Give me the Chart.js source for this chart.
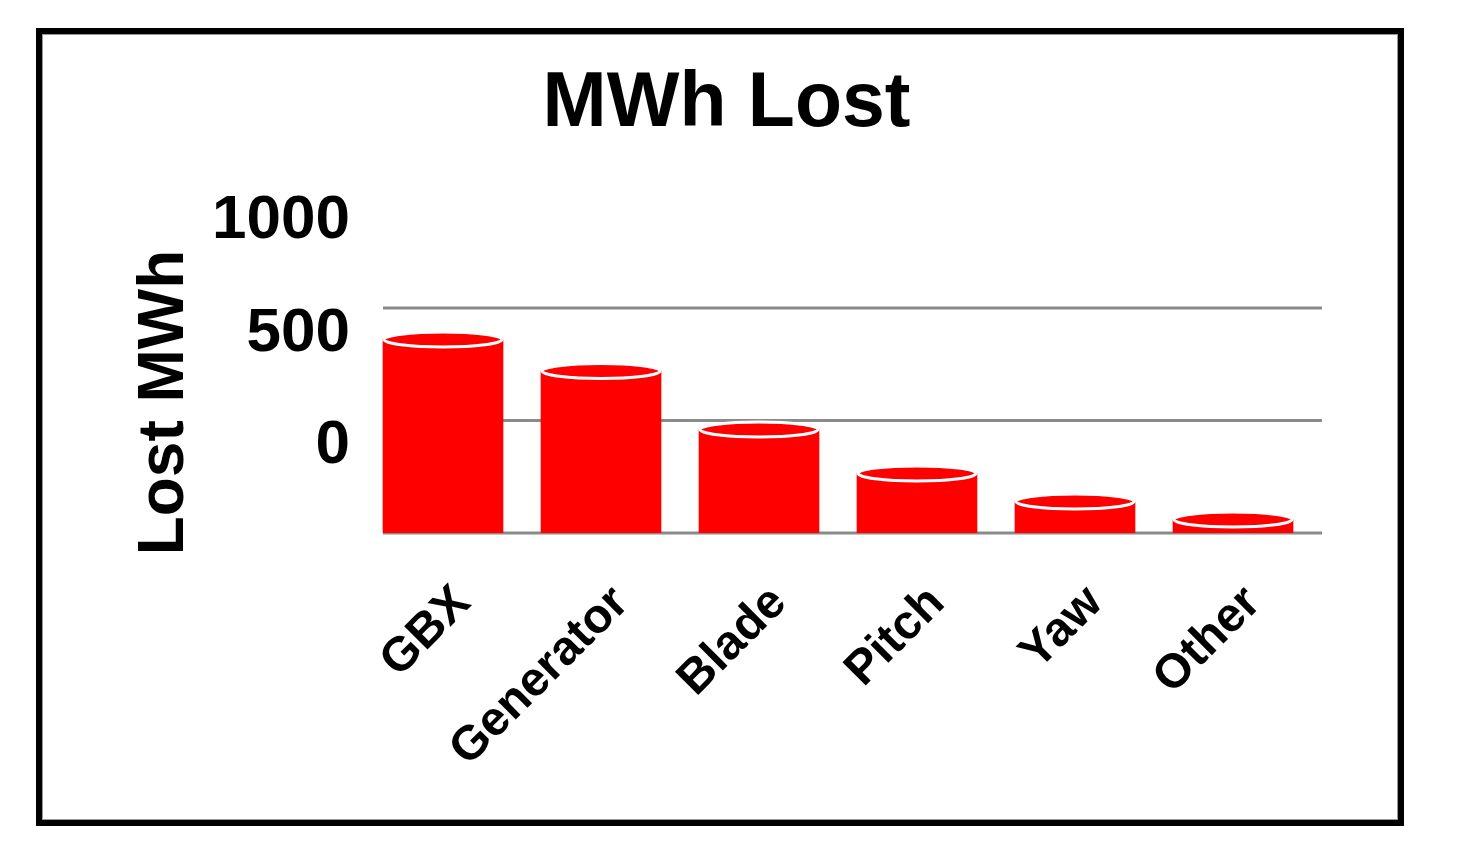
<!DOCTYPE html>
<html>
<head>
<meta charset="utf-8">
<script src="https://cdn.jsdelivr.net/npm/chart.js@4.4.0/dist/chart.umd.min.js"></script>
<style>
  body{margin:0;background:#fff;}
  canvas{position:absolute;left:0;top:0;}
  #frame{position:absolute;left:36px;top:28px;width:1368px;height:798px;border:6px solid #000;box-sizing:border-box;box-shadow:inset 0 0 0 1px #999;pointer-events:none;}
</style>
</head>
<body>
<canvas id="myChart" width="1464" height="854"></canvas>
<div id="frame"></div>
<script>
const categories=['GBX','Generator','Blade','Pitch','Yaw','Other'];
const lostMWh=[860,720,460,265,140,60];
const yTicks=[0,500,1000];
const yTitle='Lost MWh';

const FONT='"Liberation Sans", Arial, Helvetica, sans-serif';

// gray lines behind the bars, a bit shifted right like the original
const gridPlugin={
  id:'gridLines',
  beforeDatasetsDraw(chart){
    const {ctx,chartArea,scales}=chart;
    ctx.save();
    ctx.strokeStyle='#8a8a8a';
    ctx.lineWidth=3;
    scales.y.ticks.forEach(t=>{
      const y=scales.y.getPixelForValue(t.value);
      ctx.beginPath();
      ctx.moveTo(chartArea.left+19,y);
      ctx.lineTo(chartArea.right+10,y);
      ctx.stroke();
    });
    ctx.restore();
  }
};

// ellipse on top of every bar -> cylinder look
const capPlugin={
  id:'cylinderCaps',
  afterDatasetsDraw(chart){
    const {ctx}=chart;
    chart.getDatasetMeta(0).data.forEach(bar=>{
      const {x,y,width}=bar.getProps(['x','y','width'],true);
      ctx.save();
      ctx.beginPath();
      ctx.ellipse(x,y,width/2-1,7.5,0,0,Math.PI*2);
      ctx.fillStyle='#ff0000';
      ctx.fill();
      ctx.strokeStyle='#ffffff';
      ctx.lineWidth=3;
      ctx.stroke();
      ctx.restore();
    });
  }
};

// y axis title, sits a little above the middle of the axis in the original
const yTitlePlugin={
  id:'yTitle',
  afterDraw(chart){
    const {ctx}=chart;
    const s=chart.scales.y;
    ctx.save();
    ctx.translate(s.left+24,(s.top+s.bottom)/2-18);
    ctx.rotate(-Math.PI/2);
    ctx.font='bold 64px '+FONT;
    ctx.fillStyle='#000';
    ctx.textAlign='center';
    ctx.textBaseline='middle';
    ctx.fillText(yTitle,0,0);
    ctx.restore();
  }
};

const ctx=document.getElementById('myChart').getContext('2d');
const myChart=new Chart(ctx,{
  type:'bar',
  data:{
    labels:categories,
    datasets:[{
      label:'Lost MWh',
      data:lostMWh,
      backgroundColor:'#ff0000',
      borderWidth:0,
      barThickness:120
    }]
  },
  plugins:[gridPlugin,capPlugin,yTitlePlugin],
  options:{
    responsive:false,
    animation:false,
    layout:{padding:{left:141,right:152,top:59,bottom:31}},
    plugins:{
      legend:{display:false},
      tooltip:{enabled:false},
      title:{
        display:true,
        text:'MWh Lost',
        color:'#000',
        font:{family:FONT,size:77,weight:'bold',lineHeight:1.2},
        padding:{top:0,bottom:156.6}
      }
    },
    scales:{
      x:{
        grid:{display:false,drawTicks:false},
        border:{display:false},
        ticks:{
          color:'#000',
          font:{family:FONT,size:48,weight:'bold'},
          minRotation:45,
          maxRotation:45,
          padding:42,
          labelOffset:20,
          autoSkip:false
        },
        afterFit(scale){scale.height=290;}
      },
      y:{
        min:0,
        max:1000,
        grid:{display:false,drawTicks:false},
        border:{display:false},
        afterBuildTicks(scale){scale.ticks=yTicks.map(v=>({value:v}));},
        ticks:{
          color:'#000',
          font:{family:FONT,size:62,weight:'bold'},
          padding:14,
          labelOffset:-87,
          callback:(v)=>String(v)
        },
        afterFit(scale){scale.width=223;}
      }
    }
  }
});
</script>
</body>
</html>
